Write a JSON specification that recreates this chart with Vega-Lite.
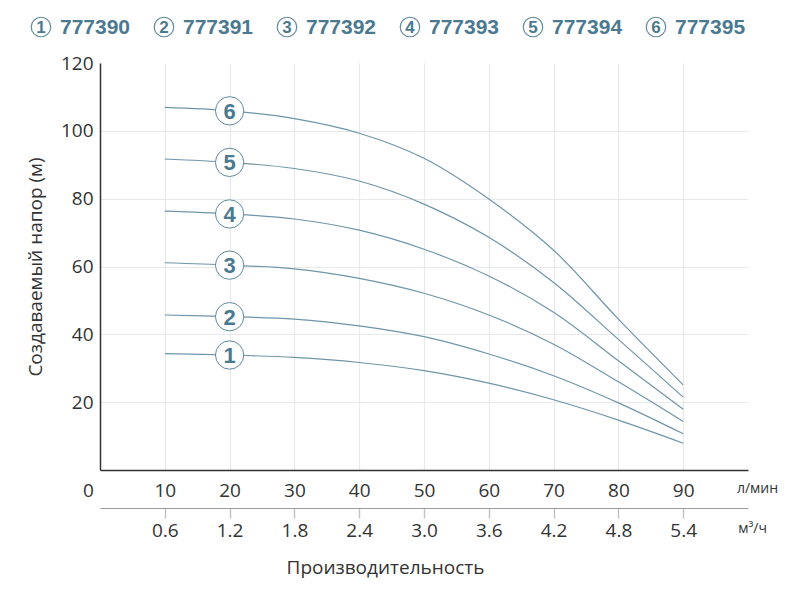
{
  "$schema": "https://vega.github.io/schema/vega-lite/v6.json",
  "background": "white",
  "padding": {"left": 26, "top": 12, "right": 0, "bottom": 12},
  "spacing": 12,
  "config": {"view": {"stroke": null}},
  "datasets": {
    "curves": [
      {"pump": 1, "q": 10, "h": 34.3}, {"pump": 1, "q": 20, "h": 33.9}, {"pump": 1, "q": 30, "h": 33.2},
      {"pump": 1, "q": 40, "h": 31.7}, {"pump": 1, "q": 50, "h": 29.3}, {"pump": 1, "q": 60, "h": 25.6},
      {"pump": 1, "q": 70, "h": 20.7}, {"pump": 1, "q": 80, "h": 14.7}, {"pump": 1, "q": 90, "h": 7.9},
      {"pump": 2, "q": 10, "h": 45.7}, {"pump": 2, "q": 20, "h": 45.2}, {"pump": 2, "q": 30, "h": 44.5},
      {"pump": 2, "q": 40, "h": 42.5}, {"pump": 2, "q": 50, "h": 39.3}, {"pump": 2, "q": 60, "h": 34.2},
      {"pump": 2, "q": 70, "h": 27.8}, {"pump": 2, "q": 80, "h": 19.8}, {"pump": 2, "q": 90, "h": 10.7},
      {"pump": 3, "q": 10, "h": 61.1}, {"pump": 3, "q": 20, "h": 60.4}, {"pump": 3, "q": 30, "h": 59.3},
      {"pump": 3, "q": 40, "h": 56.5}, {"pump": 3, "q": 50, "h": 52.1}, {"pump": 3, "q": 60, "h": 45.7},
      {"pump": 3, "q": 70, "h": 37.1}, {"pump": 3, "q": 80, "h": 26.0}, {"pump": 3, "q": 90, "h": 14.3},
      {"pump": 4, "q": 10, "h": 76.3}, {"pump": 4, "q": 20, "h": 75.5}, {"pump": 4, "q": 30, "h": 74.0},
      {"pump": 4, "q": 40, "h": 70.7}, {"pump": 4, "q": 50, "h": 65.1}, {"pump": 4, "q": 60, "h": 57.2},
      {"pump": 4, "q": 70, "h": 46.5}, {"pump": 4, "q": 80, "h": 32.2}, {"pump": 4, "q": 90, "h": 17.9},
      {"pump": 5, "q": 10, "h": 91.7}, {"pump": 5, "q": 20, "h": 90.7}, {"pump": 5, "q": 30, "h": 88.9},
      {"pump": 5, "q": 40, "h": 85.2}, {"pump": 5, "q": 50, "h": 78.4}, {"pump": 5, "q": 60, "h": 68.6},
      {"pump": 5, "q": 70, "h": 55.3}, {"pump": 5, "q": 80, "h": 38.5}, {"pump": 5, "q": 90, "h": 21.5},
      {"pump": 6, "q": 10, "h": 106.9}, {"pump": 6, "q": 20, "h": 105.9}, {"pump": 6, "q": 30, "h": 103.6},
      {"pump": 6, "q": 40, "h": 99.3}, {"pump": 6, "q": 50, "h": 91.9}, {"pump": 6, "q": 60, "h": 79.9},
      {"pump": 6, "q": 70, "h": 64.8}, {"pump": 6, "q": 80, "h": 44.5}, {"pump": 6, "q": 90, "h": 25.1}
    ],
    "labels": [
      {"pump": 1, "q": 20, "h": 33.9}, {"pump": 2, "q": 20, "h": 45.2}, {"pump": 3, "q": 20, "h": 60.4},
      {"pump": 4, "q": 20, "h": 75.5}, {"pump": 5, "q": 20, "h": 90.7}, {"pump": 6, "q": 20, "h": 105.9}
    ],
    "codes": [
      {"n": 1, "code": "777390"}, {"n": 2, "code": "777391"}, {"n": 3, "code": "777392"},
      {"n": 4, "code": "777393"}, {"n": 5, "code": "777394"}, {"n": 6, "code": "777395"}
    ],
    "flow": [
      {"lpm": 10, "m3h": 0.6}, {"lpm": 20, "m3h": 1.2}, {"lpm": 30, "m3h": 1.8},
      {"lpm": 40, "m3h": 2.4}, {"lpm": 50, "m3h": 3.0}, {"lpm": 60, "m3h": 3.6},
      {"lpm": 70, "m3h": 4.2}, {"lpm": 80, "m3h": 4.8}, {"lpm": 90, "m3h": 5.4}
    ]
  },
  "vconcat": [
    {
      "width": 648,
      "height": 30,
      "data": {"name": "codes"},
      "encoding": {
        "x": {"field": "n", "type": "quantitative", "scale": {"domain": [1.48, 6.748], "nice": false, "zero": false}, "axis": null}
      },
      "layer": [
        {"mark": {"type": "point", "shape": "circle", "size": 380, "filled": true, "fill": "white", "stroke": "#5f8a9d", "strokeWidth": 1.2, "opacity": 1}},
        {
          "mark": {"type": "text", "font": "Liberation Sans", "fontWeight": "bold", "fontSize": 17, "color": "#4b7a90", "baseline": "middle", "dy": 1},
          "encoding": {"text": {"field": "n", "type": "nominal"}}
        },
        {
          "mark": {"type": "text", "font": "Liberation Sans", "fontWeight": "bold", "fontSize": 21, "color": "#4b7a90", "align": "left", "baseline": "middle", "dx": 19, "dy": 1},
          "encoding": {"text": {"field": "code", "type": "nominal"}}
        }
      ]
    },
    {
      "width": 648,
      "height": 407,
      "layer": [
        {
          "layer": [
            {
              "data": {"name": "curves"},
              "mark": {"type": "line", "interpolate": "catmull-rom", "color": "#6e95a8", "strokeWidth": 1.2},
              "encoding": {
                "x": {
                  "field": "q", "type": "quantitative",
                  "scale": {"domain": [0, 100], "nice": false},
                  "axis": {
                    "orient": "bottom", "title": null,
                    "values": [0, 10, 20, 30, 40, 50, 60, 70, 80, 90, 100],
                    "domainColor": "#333", "domainWidth": 1.5,
                    "ticks": false, "tickSize": 0,
                    "labelPadding": 11, "labelFont": "Open Sans", "labelColor": "#333",
                    "labelFontSize": {"expr": "datum.value == 100 ? 14 : 19"},
                    "labelOffset": {"expr": "datum.value == 0 ? -12 : datum.value == 100 ? 9 : 0"},
                    "labelExpr": "datum.value == 100 ? 'л/мин' : datum.label",
                    "labelFlush": false, "labelOverlap": false,
                    "grid": true, "gridColor": "#e8e9eb", "gridWidth": 1.2,
                    "gridOpacity": {"expr": "datum.value > 0 && datum.value < 100 ? 1 : 0"}
                  }
                },
                "y": {
                  "field": "h", "type": "quantitative",
                  "scale": {"domain": [0, 120], "nice": false},
                  "axis": {
                    "title": "Создаваемый напор (м)",
                    "values": [20, 40, 60, 80, 100, 120],
                    "domainColor": "#333", "domainWidth": 1.5,
                    "ticks": false, "tickSize": 0,
                    "labelPadding": 7, "labelFont": "Open Sans", "labelFontSize": 19, "labelColor": "#333",
                    "titleFont": "Open Sans", "titleFontSize": 19, "titleFontWeight": "normal", "titleColor": "#333",
                    "titlePadding": 15,
                    "grid": true, "gridColor": "#e8e9eb", "gridWidth": 1.2,
                    "gridOpacity": {"expr": "datum.value < 110 ? 1 : 0"}
                  }
                },
                "detail": {"field": "pump", "type": "nominal"}
              }
            },
            {
              "data": {"name": "labels"},
              "mark": {"type": "point", "shape": "circle", "size": 800, "filled": true, "fill": "white", "stroke": "#5f8a9d", "strokeWidth": 1, "opacity": 1},
              "encoding": {
                "x": {"field": "q", "type": "quantitative"},
                "y": {"field": "h", "type": "quantitative"}
              }
            },
            {
              "data": {"name": "labels"},
              "mark": {"type": "text", "font": "Liberation Sans", "fontWeight": "bold", "fontSize": 22, "color": "#4b7a90", "baseline": "middle", "dy": 1},
              "encoding": {
                "x": {"field": "q", "type": "quantitative"},
                "y": {"field": "h", "type": "quantitative"},
                "text": {"field": "pump", "type": "nominal"}
              }
            }
          ]
        },
        {
          "data": {"name": "flow"},
          "mark": {"type": "point", "opacity": 0},
          "encoding": {
            "x": {
              "field": "m3h", "type": "quantitative",
              "scale": {"domain": [0, 6], "nice": false},
              "axis": {
                "orient": "bottom", "offset": 38,
                "values": [0.6, 1.2, 1.8, 2.4, 3.0, 3.6, 4.2, 4.8, 5.4, 6],
                "format": ".1f",
                "labelExpr": "datum.value >= 6 ? 'м³/ч' : datum.label",
                "domainColor": "#9a9a9a", "domainWidth": 1,
                "ticks": true, "tickColor": "#c4c4c4", "tickWidth": 1.5, "tickSize": 10,
                "tickOpacity": {"expr": "datum.value < 6 ? 1 : 0"},
                "labelPadding": 3, "labelFont": "Open Sans", "labelColor": "#333",
                "labelFontSize": {"expr": "datum.value >= 6 ? 14 : 19"},
                "labelOffset": {"expr": "datum.value >= 6 ? 4 : 0"},
                "labelFlush": false, "labelOverlap": false,
                "grid": false,
                "title": "Производительность",
                "titleFont": "Open Sans", "titleFontSize": 19, "titleFontWeight": "normal", "titleColor": "#333",
                "titlePadding": 18, "titleX": 285
              }
            }
          }
        }
      ],
      "resolve": {"scale": {"x": "independent"}, "axis": {"x": "independent"}}
    }
  ]
}
